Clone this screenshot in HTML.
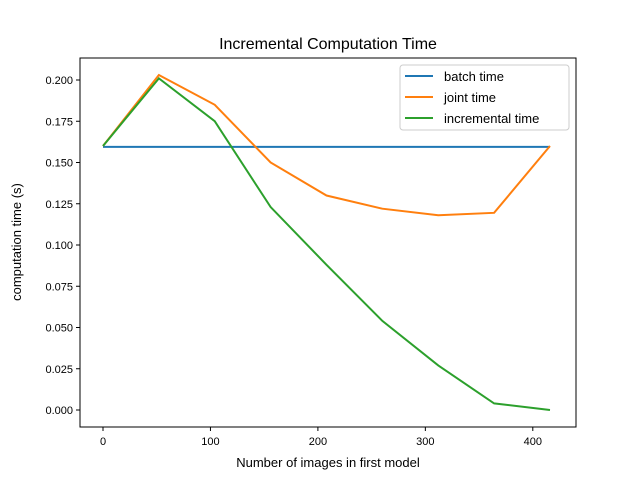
<!DOCTYPE html>
<html><head><meta charset="utf-8"><style>
body{margin:0;background:#fff}
svg{font-family:"Liberation Sans","DejaVu Sans",sans-serif}
</style></head><body>
<svg id="chart" width="640" height="480" xmlns="http://www.w3.org/2000/svg">
<rect width="640" height="480" fill="#fff"/>
<text x="328" y="49" text-anchor="middle" font-size="16">Incremental Computation Time</text>
<g id="grid"></g>
<g id="series"></g>
<rect x="80" y="58" width="496" height="369" fill="none" stroke="#000" stroke-width="1"/>
<text x="328" y="467" text-anchor="middle" font-size="13">Number of images in first model</text>
<text transform="translate(21,242) rotate(-90)" text-anchor="middle" font-size="13">computation time (s)</text>
<g>
<rect x="400" y="65" width="169" height="65" fill="#fff" stroke="#ccc" rx="3"/>
<line x1="405" y1="76" x2="433" y2="76" stroke="#1f77b4" stroke-width="2"/>
<text x="444" y="81" font-size="13">batch time</text>
<line x1="405" y1="97" x2="433" y2="97" stroke="#ff7f0e" stroke-width="2"/>
<text x="444" y="102" font-size="13">joint time</text>
<line x1="405" y1="118" x2="433" y2="118" stroke="#2ca02c" stroke-width="2"/>
<text x="444" y="123" font-size="13">incremental time</text>
</g>
</svg>
<script>
const xValues=[0,52,104,156,208,260,312,364,416];
const batchTime=[0.1595,0.1595,0.1595,0.1595,0.1595,0.1595,0.1595,0.1595,0.1595];
const jointTime=[0.16,0.203,0.185,0.150,0.130,0.122,0.118,0.1195,0.16];
const incrementalTime=[0.16,0.201,0.175,0.123,0.088,0.054,0.027,0.004,0.0];
const xTicks=[0,100,200,300,400];
const yTicks=[0,0.025,0.05,0.075,0.1,0.125,0.15,0.175,0.2];
const X=v=>103+v*1.0745;
const Y=v=>410-v*1650;
const NS="http://www.w3.org/2000/svg";
const g=document.getElementById('grid'), s=document.getElementById('series');
function mk(t,a,p){const e=document.createElementNS(NS,t);for(const k in a)e.setAttribute(k,a[k]);p.appendChild(e);return e;}
xTicks.forEach(t=>{
 const l=mk('line',{x1:X(t),x2:X(t),y1:427,y2:431,stroke:'#000'},g);
 
 
 const tx=mk('text',{x:X(t),y:445,'text-anchor':'middle','font-size':11},g);tx.textContent=t;
 
 
});
yTicks.forEach(t=>{
 const l=mk('line',{x1:76,x2:80,y1:Y(t),y2:Y(t),stroke:'#000'},g);
 
 
 const tx=mk('text',{x:73,y:Y(t)+4,'text-anchor':'end','font-size':11},g);tx.textContent=t.toFixed(3);
 
 
});
[[batchTime,'#1f77b4','batch-time-line'],[jointTime,'#ff7f0e','joint-time-line'],[incrementalTime,'#2ca02c','incremental-time-line']].forEach(([d,c,n])=>{
 const p=mk('polyline',{points:d.map((v,i)=>X(xValues[i])+','+Y(v)).join(' '),fill:'none',stroke:c,'stroke-width':2},s);
 
 
});
</script>
</body></html>
